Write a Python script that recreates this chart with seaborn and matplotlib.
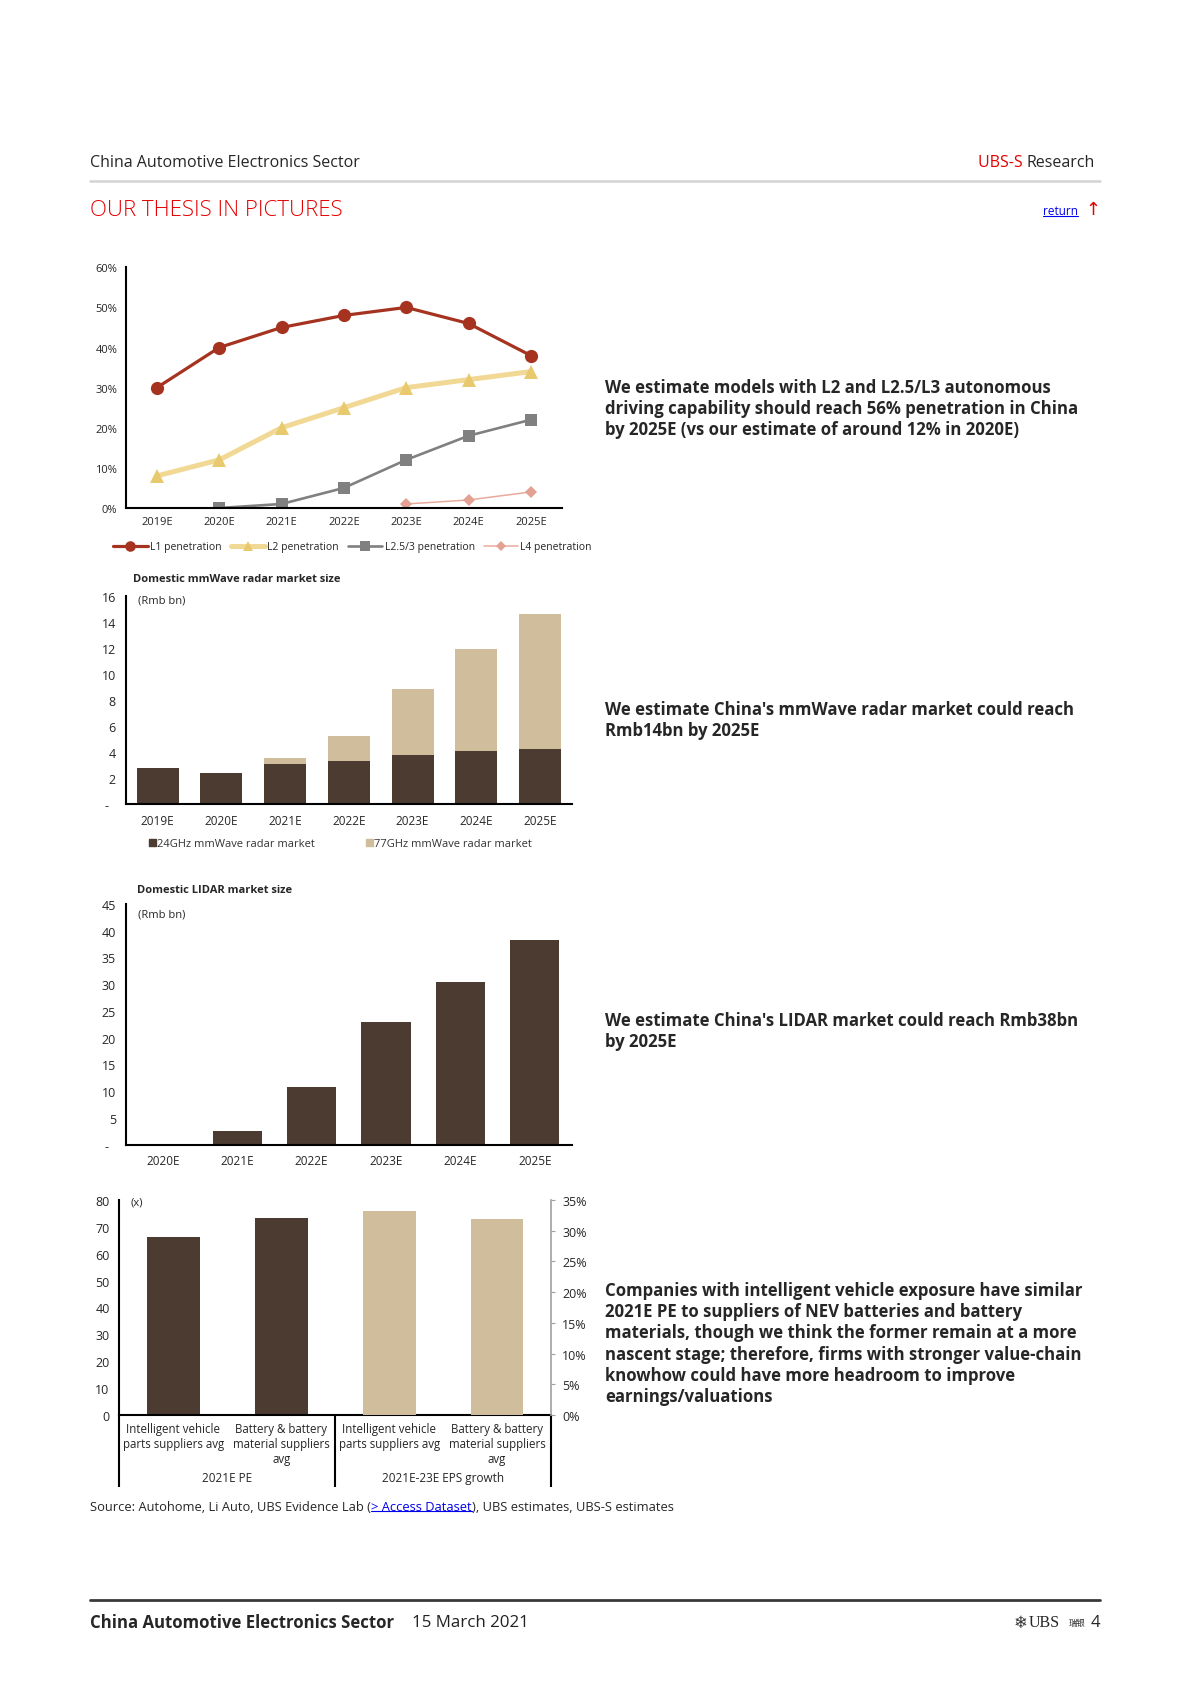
import numpy as np
import matplotlib
matplotlib.use("Agg")
import matplotlib.pyplot as plt
import matplotlib.transforms as mtransforms
from matplotlib import font_manager
from matplotlib.lines import Line2D
from matplotlib.patches import Patch
import seaborn as sns

# ---------------- data ----------------
pen_years = ["2019E", "2020E", "2021E", "2022E", "2023E", "2024E", "2025E"]
l1_pen = [30, 40, 45, 48, 50, 46, 38]
l2_pen = [8, 12, 20, 25, 30, 32, 34]
l25_pen = [np.nan, 0, 1, 5, 12, 18, 22]
l4_pen = [np.nan, np.nan, np.nan, np.nan, 1, 2, 4]

radar_years = ["2019E", "2020E", "2021E", "2022E", "2023E", "2024E", "2025E"]
radar_24ghz = [2.8, 2.4, 3.1, 3.3, 3.8, 4.1, 4.2]
radar_77ghz = [0, 0, 0.4, 1.9, 5.0, 7.8, 10.4]

lidar_years = ["2020E", "2021E", "2022E", "2023E", "2024E", "2025E"]
lidar_size = [0.1, 2.6, 10.7, 22.9, 30.5, 38.3]

peer_labels = ["Intelligent vehicle\nparts suppliers avg",
               "Battery & battery\nmaterial suppliers\navg"]
pe_2021e = [66.4, 73.4]
eps_growth = [33.2, 31.9]
group_labels = ["2021E PE", "2021E-23E EPS growth"]

# ---------------- style ----------------
sns.set_style("white")
avail = {f.name for f in font_manager.fontManager.ttflist}
BODY = "Open Sans" if "Open Sans" in avail else "DejaVu Sans"
NARROW = "Liberation Sans Narrow" if "Liberation Sans Narrow" in avail else BODY
plt.rcParams["font.family"] = [BODY, "DejaVu Sans"]

RED = "#E60000"
BROWN = "#4B3B30"
TAN = "#D0BD9C"
W, H = 1190, 1683


def fx(px):
    return px / W


def fy(py):
    return 1 - py / H


fig = plt.figure(figsize=(11.9, 16.83), dpi=100)

# ---------------- chart 1: penetration lines ----------------
ax1 = fig.add_axes([fx(125.7), fy(509), fx(562 - 125.7), (509 - 268.3) / H])
x = np.arange(len(pen_years))
sns.lineplot(x=x, y=l1_pen, ax=ax1, color="#A5331F", lw=2.3, marker="o",
             markersize=9.5, markeredgewidth=0, label="L1 penetration")
sns.lineplot(x=x, y=l2_pen, ax=ax1, color="#F1D894", lw=3.6, marker="^",
             markersize=9.5, markeredgewidth=0, markerfacecolor="#E9C96E",
             label="L2 penetration")
sns.lineplot(x=x, y=l25_pen, ax=ax1, color="#808080", lw=1.9, marker="s",
             markersize=8.5, markeredgewidth=0, label="L2.5/3 penetration")
sns.lineplot(x=x, y=l4_pen, ax=ax1, color="#EBA99C", lw=1.1, marker="D",
             markersize=6, markeredgewidth=0, markerfacecolor="#E3A193",
             label="L4 penetration")
ax1.set_xlim(-0.5, len(pen_years) - 0.5)
ax1.set_ylim(0, 60)
ax1.set_xticks(x)
ax1.set_xticklabels(pen_years, fontsize=8, family=[NARROW, "DejaVu Sans"])
yt = np.arange(0, 61, 10)
ax1.set_yticks(yt)
ax1.set_yticklabels([f"{v}%" for v in yt], fontsize=8, family=[NARROW, "DejaVu Sans"])
ax1.tick_params(length=0, pad=6)
ax1.set_xlabel("")
ax1.set_ylabel("")
for s in ["top", "right"]:
    ax1.spines[s].set_visible(False)
for s in ["left", "bottom"]:
    ax1.spines[s].set_color("black")
    ax1.spines[s].set_linewidth(1.5)
h, l = ax1.get_legend_handles_labels()
ax1.legend(h, l, loc="center", bbox_to_anchor=(0.52, -0.161), ncol=4, frameon=False,
           prop={"family": [NARROW, "DejaVu Sans"], "size": 7.5},
           handlelength=3.3, handletextpad=0.2, columnspacing=0.9, markerscale=0.8)

# ---------------- chart 2: mmWave radar ----------------
ax2 = fig.add_axes([fx(125.7), fy(805), fx(572 - 125.7), (805 - 596.7) / H])
radar_total = np.add(radar_24ghz, radar_77ghz)
sns.barplot(x=radar_years, y=radar_total, color=TAN, saturation=1, width=0.66,
            linewidth=0, errorbar=None, ax=ax2)
sns.barplot(x=radar_years, y=radar_24ghz, color=BROWN, saturation=1, width=0.66,
            linewidth=0, errorbar=None, ax=ax2)
ax2.set_xlim(-0.5, len(radar_years) - 0.5)
ax2.set_ylim(0, 16)
yt = np.arange(0, 17, 2)
ax2.set_yticks(yt)
ax2.set_yticklabels(["-  "] + [str(v) for v in yt[1:]], fontsize=9)
ax2.tick_params(axis="x", labelsize=8.5)
ax2.tick_params(length=0, pad=7)
ax2.set_xlabel("")
ax2.set_ylabel("")
for s in ["top", "right"]:
    ax2.spines[s].set_visible(False)
for s in ["left", "bottom"]:
    ax2.spines[s].set_color("black")
    ax2.spines[s].set_linewidth(1.5)
ax2.text(0.027, 0.979, "(Rmb bn)", transform=ax2.transAxes, fontsize=8, va="center")
fig.text(fx(133), fy(580), "Domestic mmWave radar market size", fontsize=8,
         fontweight="bold", va="center")
ax2.legend(handles=[Patch(color=BROWN, label="24GHz mmWave radar market"),
                    Patch(color=TAN, label="77GHz mmWave radar market")],
           loc="center left", bbox_to_anchor=(0.03, -0.192), ncol=2, frameon=False,
           fontsize=8, handlelength=0.6, handleheight=0.6, handletextpad=0.1,
           columnspacing=4.6, labelcolor="#333333")

# ---------------- chart 3: LIDAR ----------------
ax3 = fig.add_axes([fx(125.7), fy(1145.7), fx(572 - 125.7), (1145.7 - 905) / H])
sns.barplot(x=lidar_years, y=lidar_size, color=BROWN, saturation=1, width=0.66,
            linewidth=0, errorbar=None, ax=ax3)
ax3.set_xlim(-0.5, len(lidar_years) - 0.5)
ax3.set_ylim(0, 45)
yt = np.arange(0, 46, 5)
ax3.set_yticks(yt)
ax3.set_yticklabels(["-  "] + [str(v) for v in yt[1:]], fontsize=9)
ax3.tick_params(axis="x", labelsize=8.5)
ax3.tick_params(length=0, pad=7)
ax3.set_xlabel("")
ax3.set_ylabel("")
for s in ["top", "right"]:
    ax3.spines[s].set_visible(False)
for s in ["left", "bottom"]:
    ax3.spines[s].set_color("black")
    ax3.spines[s].set_linewidth(1.5)
ax3.text(0.027, 0.958, "(Rmb bn)", transform=ax3.transAxes, fontsize=8, va="center")
fig.text(fx(136.7), fy(891), "Domestic LIDAR market size", fontsize=8,
         fontweight="bold", va="center")

# ---------------- chart 4: PE vs EPS growth ----------------
ax4 = fig.add_axes([fx(119.3), fy(1416), fx(551 - 119.3), (1416 - 1201) / H])
slots = ["PE|" + s for s in peer_labels] + ["EPS|" + s for s in peer_labels]
sns.barplot(x=slots[:2], y=pe_2021e, order=slots, color=BROWN, saturation=1,
            width=0.49, linewidth=0, errorbar=None, ax=ax4)
ax4r = ax4.twinx()
sns.barplot(x=slots[2:], y=eps_growth, order=slots, color=TAN, saturation=1,
            width=0.49, linewidth=0, errorbar=None, ax=ax4r)
for a in (ax4, ax4r):
    a.set_xlim(-0.5, len(slots) - 0.5)
    a.set_xlabel("")
    a.set_ylabel("")
ax4.set_ylim(0, 80)
ax4.set_yticks(np.arange(0, 81, 10))
ax4.set_yticklabels([str(v) for v in range(0, 81, 10)], fontsize=9)
ax4r.set_ylim(0, 35)
yt = np.arange(0, 36, 5)
ax4r.set_yticks(yt)
ax4r.set_yticklabels([f"{v}%" for v in yt], fontsize=9)
ax4.set_xticks(range(len(slots)))
ax4.set_xticklabels(peer_labels * 2, fontsize=8.3, linespacing=1.2, va="top")
ax4.tick_params(length=0, pad=5)
ax4.tick_params(axis="y", pad=7)
ax4r.tick_params(axis="y", direction="out", length=3, color="#A0A0A0", pad=5)
for a in (ax4, ax4r):
    a.spines["top"].set_visible(False)
ax4.spines["right"].set_visible(False)
ax4r.spines["left"].set_visible(False)
ax4r.spines["bottom"].set_visible(False)
ax4r.spines["right"].set_color("#A0A0A0")
ax4r.spines["right"].set_linewidth(1.2)
for s in ["left", "bottom"]:
    ax4.spines[s].set_color("black")
    ax4.spines[s].set_linewidth(1.5)
ax4.text(0.025, 0.99, "(x)", transform=ax4.transAxes, fontsize=8, va="center")
blend = mtransforms.blended_transform_factory(ax4.transData, ax4.transAxes)
for xs in (-0.5, 1.5, 3.5):
    ax4.plot([xs, xs], [0, -0.333], transform=blend, color="black", lw=1.5,
             clip_on=False, solid_capstyle="butt")
for i, g in enumerate(group_labels):
    ax4.text(0.5 + 2 * i, -0.293, g, transform=blend, ha="center", va="center",
             fontsize=8.5)

# ---------------- commentary ----------------
comments = [
    (409.3, "We estimate models with L2 and L2.5/L3 autonomous\n"
            "driving capability should reach 56% penetration in China\n"
            "by 2025E (vs our estimate of around 12% in 2020E)"),
    (720.5, "We estimate China's mmWave radar market could reach\n"
            "Rmb14bn by 2025E"),
    (1031.8, "We estimate China's LIDAR market could reach Rmb38bn\n"
             "by 2025E"),
    (1344, "Companies with intelligent vehicle exposure have similar\n"
           "2021E PE to suppliers of NEV batteries and battery\n"
           "materials, though we think the former remain at a more\n"
           "nascent stage; therefore, firms with stronger value-chain\n"
           "knowhow could have more headroom to improve\n"
           "earnings/valuations"),
]
for yc, txt in comments:
    fig.text(fx(605), fy(yc), txt, fontsize=12.1, fontweight="bold", va="center",
             ha="left", linespacing=1.22)

# ---------------- page furniture ----------------
fig.text(fx(90), fy(163), "China Automotive Electronics Sector", fontsize=11.5, va="center")
t_res = fig.text(fx(1095), fy(163), "Research", fontsize=11.5, va="center", ha="right")
fig.add_artist(Line2D([fx(90), fx(1100)], [fy(182), fy(182)], color="#D3D3D3", lw=1.8))
fig.text(fx(90), fy(211), "OUR THESIS IN PICTURES", fontsize=16, color=RED,
         va="center", fontweight="light")
t_arrow = fig.text(fx(1100), fy(210), "↑", fontsize=13, color=RED, va="center",
                   ha="right", family=["DejaVu Sans"])
t_ret = fig.text(fx(1078), fy(212), "return", fontsize=8.5, color="#0000EE",
                 va="center", ha="right")

src_a = "Source: Autohome, Li Auto, UBS Evidence Lab ("
src_b = "> Access Dataset"
src_c = "), UBS estimates, UBS-S estimates"
t_a = fig.text(fx(90), fy(1507.6), src_a, fontsize=9.3, va="center")

fig.add_artist(Line2D([fx(90), fx(1100)], [fy(1601), fy(1601)], color="#3A3A3A", lw=2))
t_foot = fig.text(fx(90), fy(1622.6), "China Automotive Electronics Sector", fontsize=12.1,
                  fontweight="bold", va="center")
fig.text(fx(412), fy(1622.6), "15 March 2021", fontsize=12.2, va="center", color="#222222")
fig.text(fx(1100), fy(1622.6), "4", fontsize=12, va="center", ha="right")
fig.text(fx(1085), fy(1624), "瑞银", fontsize=6, va="center", ha="right",
         family=["Noto Sans CJK SC", "DejaVu Sans"])
fig.text(fx(1060), fy(1622.6), "UBS", fontsize=11.5, va="center", ha="right",
         family=["Liberation Serif", "DejaVu Serif"])
fig.text(fx(1027), fy(1622.6), "❄", fontsize=12, va="center", ha="right",
         family=["DejaVu Sans"], color="#333333")

# place pieces that depend on measured widths
fig.canvas.draw()
r = fig.canvas.get_renderer()
inv = fig.transFigure.inverted()

bb = t_res.get_window_extent(r)
x0 = inv.transform((bb.x0, bb.y0))[0]
fig.text(x0, fy(163), "UBS-S ", fontsize=11.5, va="center", ha="right", color=RED)

bb = t_ret.get_window_extent(r)
(ux0, uy0), (ux1, _) = inv.transform([(bb.x0, bb.y0 + 2), (bb.x1, bb.y0)])
fig.add_artist(Line2D([ux0, ux1], [uy0, uy0], color="#0000EE", lw=0.8))

bb = t_a.get_window_extent(r)
xb = inv.transform((bb.x1, bb.y0))[0]
t_b = fig.text(xb, fy(1507.6), src_b, fontsize=9.3, va="center", color="#0000EE")
fig.canvas.draw()
bb = t_b.get_window_extent(r)
(bx0, by0), (bx1, _) = inv.transform([(bb.x0, bb.y0 + 2), (bb.x1, bb.y0)])
fig.add_artist(Line2D([bx0, bx1], [by0, by0], color="#0000EE", lw=0.8))
fig.text(bx1, fy(1507.6), src_c, fontsize=9.3, va="center")

fig.savefig("out.png", dpi=100)
